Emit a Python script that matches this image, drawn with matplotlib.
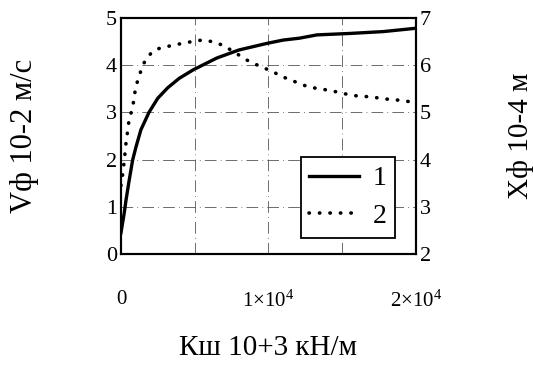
import numpy as np
import matplotlib
matplotlib.use('Agg')
import matplotlib.pyplot as plt

plt.rcParams['font.family'] = ['Liberation Serif', 'DejaVu Serif']
plt.rcParams['mathtext.default'] = 'regular'

# curve 1: Vf (left axis, 10^-2 m/s)
x1 = [0, 50, 220, 340, 560, 790, 1020, 1350, 1900, 2500, 3170, 3950, 4900,
      6500, 8000, 9900, 11000, 12100, 13300, 15500, 17800, 20000]
v1 = [0.45, 0.55, 0.87, 1.14, 1.57, 1.99, 2.27, 2.63, 3.0, 3.3, 3.52, 3.72,
      3.9, 4.15, 4.32, 4.46, 4.53, 4.57, 4.64, 4.67, 4.71, 4.78]

# curve 2: Xf (right axis, 10^-4 m)
x2 = [0, 120, 230, 340, 450, 560, 790, 900, 1020, 1240, 1470, 1810, 2150,
      2710, 3390, 4000, 4680, 5470, 6140, 6930, 7610, 8520, 9190, 9760,
      10300, 10780, 11340, 12100, 12800, 13500, 14200, 14850, 15500, 16200,
      17000, 17700, 18400, 19150, 19850]
v2 = [3.45, 3.7, 4.0, 4.35, 4.6, 4.87, 5.09, 5.34, 5.56, 5.77, 6.0, 6.17, 6.29,
      6.37, 6.41, 6.45, 6.49, 6.53, 6.50, 6.42, 6.29, 6.11, 6.01, 5.93,
      5.87, 5.77, 5.71, 5.61, 5.53, 5.50, 5.46, 5.42, 5.37, 5.34,
      5.33, 5.29, 5.27, 5.25, 5.21]

xticks = [0, 10000, 20000]
xticklabels = ['0', '1×10$^{4}$', '2×10$^{4}$']

fig = plt.figure(figsize=(5.33, 3.65), dpi=100)
ax = fig.add_axes([0.227, 0.304, 0.553, 0.647])
ax2 = ax.twinx()

l1, = ax.plot(x1, v1, color='black', lw=2.4, label='1')
l2, = ax2.plot(x2, v2, color='black', lw=2.6, linestyle=(0, (0.1, 2.8)),
               dash_capstyle='round', label='2')

ax.set_xlim(0, 20000)
ax.set_ylim(0, 5)
ax2.set_ylim(2, 7)

# dash-dot grid
for gx in [5000, 10000, 15000]:
    ax.axvline(gx, color='#555555', lw=0.6, linestyle=(0, (14, 5, 1, 5)), zorder=0)
for gy in [1, 2, 3, 4]:
    ax.axhline(gy, color='#555555', lw=0.6, linestyle=(0, (14, 5, 1, 5)), zorder=0)

ax.set_xticks(xticks)
ax.set_xticklabels(xticklabels)
ax.set_yticks(range(6))
ax2.set_yticks(range(2, 8))
ax.tick_params(axis='x', length=0, pad=26, labelsize=15)
ax.tick_params(axis='y', length=0, pad=3, labelsize=16)
ax2.tick_params(axis='y', length=0, pad=3, labelsize=16)

for a in (ax, ax2):
    for s in a.spines.values():
        s.set_linewidth(1.5)

ax.set_ylabel('Vф 10-2 м/с', fontsize=22, labelpad=48)
ax2.set_ylabel('Xф 10-4 м', fontsize=21, labelpad=55)
ax.set_xlabel('Кш 10+3 кН/м', fontsize=21, labelpad=17)

leg = ax2.legend([l1, l2], ['1', '2'], loc='lower left',
                 bbox_to_anchor=(0.61, 0.07), fontsize=20, fancybox=False,
                 edgecolor='black', framealpha=1, handlelength=1.8,
                 labelspacing=0.45, borderpad=0.3, handletextpad=0.5,
                 borderaxespad=0)
leg.get_frame().set_linewidth(1.3)

fig.savefig('out.png', dpi=100)
